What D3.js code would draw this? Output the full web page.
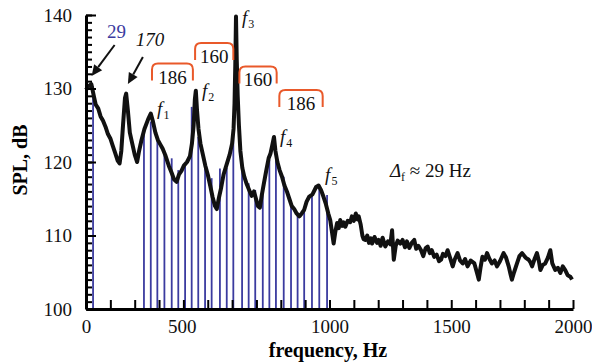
<!DOCTYPE html>
<html>
<head>
<meta charset="utf-8">
<script src="https://cdn.jsdelivr.net/npm/d3@7"></script>
<style>
  body { margin: 0; background: #fff; }
  svg { display: block; }
  text { font-family: "Liberation Serif", "Times New Roman", serif; }
</style>
</head>
<body>
<svg id="chart" width="592" height="364"></svg>
<script>
// spectrum (Hz, dB)
const specFreq = [0, 10, 22, 32, 40, 50, 60, 70, 80, 90, 100, 110, 120, 130, 138, 145, 152, 160, 165, 172, 180, 190, 200, 210, 218, 228, 240, 255, 266, 275, 285, 295, 305, 315, 325, 340, 352, 362, 372, 382, 392, 402, 415, 427, 435, 442, 447, 451, 456, 462, 470, 480, 490, 500, 510, 520, 530, 537, 545, 555, 565, 578, 590, 600, 606, 610, 613, 616, 619, 623, 628, 634, 642, 650, 660, 670, 680, 690, 698, 706, 714, 722, 730, 740, 750, 758, 765, 772, 778, 786, 795, 805, 815, 825, 835, 845, 855, 865, 876, 886, 896, 906, 917, 930, 945, 955, 965, 975, 985, 995, 1003, 1010, 1017, 1024, 1031, 1038, 1044, 1052, 1058, 1065, 1075, 1085, 1092, 1100, 1108, 1115, 1120, 1128, 1135, 1140, 1147, 1155, 1162, 1170, 1175, 1185, 1195, 1202, 1210, 1218, 1229, 1240, 1250, 1257, 1264, 1272, 1280, 1291, 1300, 1310, 1318, 1328, 1338, 1348, 1356, 1365, 1376, 1385, 1395, 1403, 1412, 1420, 1430, 1440, 1450, 1458, 1466, 1476, 1485, 1495, 1506, 1515, 1526, 1536, 1547, 1557, 1567, 1580, 1595, 1605, 1613, 1620, 1628, 1638, 1647, 1657, 1667, 1678, 1688, 1700, 1715, 1725, 1736, 1743, 1749, 1758, 1770, 1780, 1791, 1805, 1818, 1826, 1832, 1842, 1852, 1860, 1866, 1876, 1886, 1897, 1907, 1915, 1927, 1938, 1948, 1958, 1968, 1978, 1989, 1996];
const specDb = [129.8, 130.3, 130.6, 129, 127.8, 127.3, 126.2, 125.6, 124.8, 123.8, 123.2, 122.2, 121.2, 120.2, 119.8, 121.5, 125, 128.7, 129.3, 127, 124, 122.5, 121, 120, 121.5, 123, 124.5, 125.8, 126.6, 125.5, 124, 123, 122.4, 121.8, 121, 119.5, 118.5, 117.6, 117.3, 118.3, 118.8, 119.5, 120, 120.8, 122.5, 125, 128.5, 129.7, 127, 124.5, 122.5, 121, 119.5, 118.3, 116.8, 115.2, 114, 113.6, 115, 116.5, 118.3, 119.7, 121, 122.5, 124.5, 128, 133, 139.8, 134, 129, 125, 121.5, 119.2, 118, 117, 116.2, 115.4, 116, 115, 114, 113.8, 115.5, 117, 118.8, 120.5, 121.2, 122.3, 123.4, 121.5, 120, 118.9, 118, 116.8, 116, 115, 114, 113.6, 113, 112.6, 113, 113.5, 114.6, 115.3, 115.6, 116.6, 116.8, 116.2, 115.3, 114.3, 113, 112.1, 110.5, 108.9, 110.5, 111.7, 111, 112.1, 111.3, 111.8, 111.2, 112, 111.8, 112.6, 112, 113, 112.2, 112.6, 111.5, 110, 109.5, 109.4, 110, 109, 109.6, 108.9, 109.8, 109, 109.4, 108.6, 109.7, 108.5, 109.2, 108.8, 110.7, 106.7, 108.6, 109.3, 108.9, 109.4, 108.4, 109.2, 108.3, 109, 109.4, 108.2, 108.6, 108, 107.2, 108.3, 108.5, 107.6, 108, 107.1, 107.4, 106.5, 106.7, 107.5, 107.2, 108, 107, 105.8, 106.8, 107.6, 106.6, 106.2, 106.8, 105.8, 106.6, 106.2, 105, 104, 105.6, 107.1, 106.7, 107.6, 106.8, 106.2, 106.6, 105.8, 106.5, 107.6, 107, 105.8, 104.8, 104, 105, 106.2, 107.2, 107.6, 107, 106.7, 106.3, 105.8, 106.8, 107.6, 106.5, 105.3, 106, 106.2, 107, 108, 106.2, 105.3, 105.6, 104.9, 105.8, 105.3, 104.6, 104.4, 104];

// blue harmonic lines (Hz, dB)
const lineFreq = [0, 29, 238, 266, 293, 322, 352, 379, 407, 434, 461, 489, 516, 550, 578, 605, 641, 668, 695, 726, 753, 780, 812, 842, 869, 896, 928, 958, 990];
const lineDb = [130.3, 130.3, 124.4, 125.5, 123.2, 121, 120.5, 118.9, 119.8, 127.5, 123.4, 119.8, 117.8, 119.1, 119.2, 125.3, 119.8, 117.1, 116.2, 115.7, 120.3, 120.7, 118, 114.5, 112.8, 113.9, 115.5, 116.9, 115.5];

// spacing brackets (from Hz, to Hz, top dB, label)
const bracketFrom = [271, 448, 630, 794];
const bracketTo = [439, 605, 783, 972];
const bracketTop = [133.4, 136.2, 133.0, 129.8];
const bracketText = ["186", "160", "160", "186"];

// peak labels f1..f5 (anchor Hz, dB)
const peakNames = ["1", "2", "3", "4", "5"];
const peakFreq = [292, 476, 641, 797, 982];
const peakDb = [126.4, 128.8, 138.8, 122.6, 117.4];

// arrows (tip Hz, dB, label)
const arrowFreq = [23, 172];
const arrowDb = [131.7, 130.6];
const arrowText = ["29", "170"];

const xTicks = [0, 500, 1000, 1500, 2000];
const yTicks = [100, 110, 120, 130, 140];

const blue = "#3b3b9f";
const orange = "#e9592a";

const svg = d3.select("#chart");
const x = d3.scaleLinear().domain([0, 2000]).range([86, 573]);
const y = d3.scaleLinear().domain([100, 140]).range([309, 15]);

// blue lines
svg.append("g")
  .selectAll("line")
  .data(lineFreq)
  .enter()
  .append("line")
  .attr("x1", d => x(d))
  .attr("x2", d => x(d))
  .attr("y1", y(100))
  .attr("y2", (d, i) => y(lineDb[i]))
  .attr("stroke", blue)
  .attr("stroke-width", 1.8);

// spectrum
const spec = specFreq.map((f, i) => [f, specDb[i]]);
svg.append("path")
  .datum(spec)
  .attr("fill", "none")
  .attr("stroke", "#111")
  .attr("stroke-width", 4)
  .attr("stroke-linejoin", "round")
  .attr("d", d3.line().x(d => x(d[0])).y(d => y(d[1])));

// x axis: inward ticks every 100 Hz
svg.append("g")
  .attr("transform", "translate(0," + y(100) + ")")
  .call(d3.axisTop(x).tickValues(d3.range(0, 2001, 100)).tickSize(9).tickSizeOuter(0).tickFormat(""))
  .call(g => g.select(".domain").attr("stroke-width", 3))
  .call(g => g.selectAll(".tick line").attr("stroke-width", 2));

const xLab = svg.append("g")
  .attr("transform", "translate(0," + y(100) + ")")
  .call(d3.axisBottom(x).tickValues(xTicks).tickSize(0).tickPadding(11).tickFormat(d3.format("d")));
xLab.select(".domain").remove();
xLab.selectAll("text")
  .attr("font-size", 19)
  .attr("font-family", "Liberation Serif")
  .attr("fill", "#111")
  .attr("dx", d => d === 500 ? -26 : 0);

// y axis: inward ticks every dB
svg.append("g")
  .attr("transform", "translate(" + x(0) + ",0)")
  .call(d3.axisRight(y).tickValues(d3.range(100, 141, 1)).tickSize(6).tickSizeOuter(0).tickFormat(""))
  .call(g => g.select(".domain").attr("stroke-width", 3))
  .call(g => g.selectAll(".tick line").attr("stroke-width", 2));

svg.append("g")
  .attr("transform", "translate(" + x(0) + ",0)")
  .call(d3.axisRight(y).tickValues(yTicks).tickSize(10).tickFormat(""))
  .call(g => g.select(".domain").remove())
  .call(g => g.selectAll(".tick line").attr("stroke-width", 2));

const yLab = svg.append("g")
  .attr("transform", "translate(" + x(0) + ",0)")
  .call(d3.axisLeft(y).tickValues(yTicks).tickSize(0).tickPadding(14));
yLab.select(".domain").remove();
yLab.selectAll("text")
  .attr("font-size", 19)
  .attr("font-family", "Liberation Serif")
  .attr("fill", "#111");

// axis titles
svg.append("text")
  .attr("x", 328)
  .attr("y", 357)
  .attr("text-anchor", "middle")
  .attr("font-size", 20)
  .attr("font-weight", "bold")
  .text("frequency, Hz");

svg.append("text")
  .attr("transform", "translate(27,160) rotate(-90)")
  .attr("text-anchor", "middle")
  .attr("font-size", 20)
  .attr("font-weight", "bold")
  .text("SPL, dB");

// brackets
const drop = 17, r = 6;
bracketFrom.forEach((f, i) => {
  const x0 = x(f), x1 = x(bracketTo[i]), yt = y(bracketTop[i]);
  svg.append("path")
    .attr("fill", "none")
    .attr("stroke", orange)
    .attr("stroke-width", 2)
    .attr("d", `M${x0},${yt + drop}V${yt + r}Q${x0},${yt} ${x0 + r},${yt}H${x1 - r}Q${x1},${yt} ${x1},${yt + r}V${yt + drop}`);
  svg.append("text")
    .attr("x", (x0 + x1) / 2)
    .attr("y", yt + 20)
    .attr("text-anchor", "middle")
    .attr("font-size", 19)
    .attr("fill", "#111")
    .text(bracketText[i]);
});

// peak labels
peakNames.forEach((n, i) => {
  const t = svg.append("text")
    .attr("x", x(peakFreq[i]))
    .attr("y", y(peakDb[i]))
    .attr("font-size", 19)
    .attr("fill", "#111");
  t.append("tspan").attr("font-style", "italic").text("f");
  t.append("tspan").attr("font-size", 12).attr("dy", 4).attr("dx", 1).text(n);
});

// arrows
const tailDx = [23, 15], tailDy = [-31, -27];
const textDx = [25, 22], textDy = [-38, -38];
arrowFreq.forEach((f, i) => {
  const tx = x(f), ty = y(arrowDb[i]);
  const sx = tx + tailDx[i], sy = ty + tailDy[i];
  const ang = Math.atan2(ty - sy, tx - sx);
  const hl = 11, hw = 5;
  const bx = tx - hl * Math.cos(ang), by = ty - hl * Math.sin(ang);
  svg.append("line")
    .attr("x1", sx).attr("y1", sy)
    .attr("x2", bx).attr("y2", by)
    .attr("stroke", "#111")
    .attr("stroke-width", 2);
  svg.append("path")
    .attr("fill", "#111")
    .attr("d", `M${tx},${ty}L${bx - hw * Math.sin(ang)},${by + hw * Math.cos(ang)}L${bx + hw * Math.sin(ang)},${by - hw * Math.cos(ang)}Z`);
  svg.append("text")
    .attr("x", tx + textDx[i])
    .attr("y", ty + textDy[i])
    .attr("text-anchor", "middle")
    .attr("font-size", 19)
    .attr("font-style", i === 1 ? "italic" : "normal")
    .attr("fill", i === 0 ? blue : "#111")
    .text(arrowText[i]);
});

// delta f note
const note = svg.append("text")
  .attr("x", x(1248))
  .attr("y", y(118))
  .attr("font-size", 19)
  .attr("fill", "#111");
note.append("tspan").attr("font-style", "italic").text("Δ");
note.append("tspan").attr("font-size", 12).attr("dy", 4).text("f");
note.append("tspan").attr("dy", -4).text(" ≈ 29 Hz");
</script>
</body>
</html>
